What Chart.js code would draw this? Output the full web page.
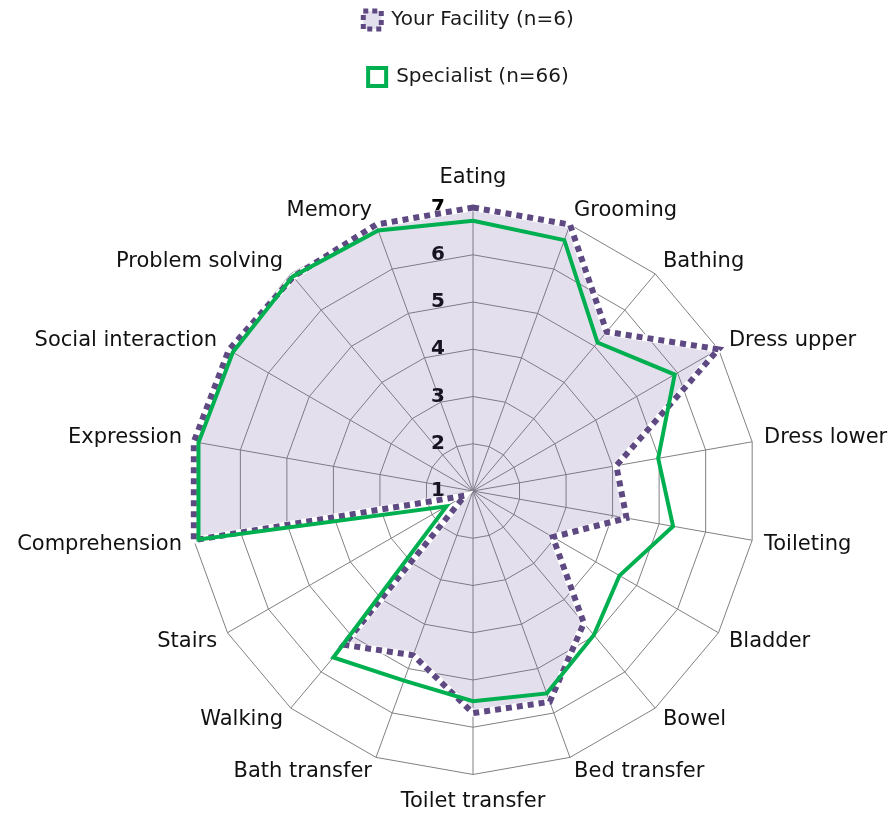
<!DOCTYPE html>
<html><head><meta charset="utf-8">
<script src="https://cdn.jsdelivr.net/npm/chart.js@4.4.1/dist/chart.umd.min.js"></script>
<style>html,body{margin:0;padding:0;background:#fff;overflow:hidden;} #wrap{width:895px;height:821px;position:relative;overflow:hidden;} #c{position:absolute;left:-4px;top:0;}</style>
</head><body><div id="wrap"><canvas id="c" width="912" height="883"></canvas></div>
<script>
const categories = ['Eating','Grooming','Bathing','Dress upper','Dress lower','Toileting','Bladder','Bowel','Bed transfer','Toilet transfer','Bath transfer','Walking','Stairs','Comprehension','Expression','Social interaction','Problem solving','Memory'];
const yourFacility = [7.0, 7.0, 5.4, 7.0, 4.08, 4.3, 2.95, 4.65, 5.75, 5.7, 4.7, 5.25, 1.2, 7.0, 7.0, 6.97, 6.92, 7.0];
const specialist = [6.72, 6.65, 5.1, 5.93, 4.98, 5.3, 4.58, 4.98, 5.56, 5.45, 5.27, 5.6, 1.65, 6.9, 6.9, 6.87, 6.93, 6.87];
const tickValues = [1, 2, 3, 4, 5, 6, 7];
const seriesNames = ['Your Facility (n=6)', 'Specialist (n=66)'];

const PURPLE = '#5E4982';
const LAVENDER = 'rgba(115,95,160,0.2)';
const GREEN = '#00B050';
const GRID = '#808080';

const legendWrap = {
  id: 'legendWrap',
  beforeLayout(chart) {
    const lg = chart.legend;
    if (lg && !lg._wrapped) {
      lg._wrapped = true;
      const orig = lg.setDimensions;
      lg.setDimensions = function () { orig.call(this); this.maxWidth = 320; };
    }
  },
  afterLayout(chart) {
    const lg = chart.legend;
    if (lg) { lg.left = 303; lg.right = 642; }
  }
};

const chart = new Chart(document.getElementById('c'), {
  type: 'radar',
  data: {
    labels: categories,
    datasets: [
      { label: seriesNames[0], data: yourFacility, order: 1, fill: false,
        borderColor: PURPLE, backgroundColor: LAVENDER, borderWidth: 6, borderDash: [6, 5],
        borderCapStyle: 'butt', pointRadius: 0 },
      { label: seriesNames[1], data: specialist, order: 0, fill: false,
        borderColor: GREEN, backgroundColor: '#ffffff', borderWidth: 4, pointRadius: 0 },
      { label: '', data: yourFacility, order: 2, fill: false,
        borderColor: '#ffffff', borderWidth: 7, pointRadius: 0 },
      { label: '', data: yourFacility, order: 3, fill: true,
        borderWidth: 0, borderColor: 'rgba(0,0,0,0)', backgroundColor: LAVENDER, pointRadius: 0 }
    ]
  },
  options: {
    responsive: false,
    animation: false,
    devicePixelRatio: 1,
    layout: { padding: { top: -27, bottom: 0, left: 0, right: 0 } },
    plugins: {
      tooltip: { enabled: false },
      legend: {
        position: 'top',
        align: 'center',
        labels: {
          filter: (item) => item.datasetIndex < 2,
          sort: (a, b) => a.datasetIndex - b.datasetIndex,
          boxWidth: 18, boxHeight: 18, padding: 37,
          color: '#1a1a1a',
          font: { family: 'DejaVu Sans', size: 20 },
          generateLabels: (ch) => {
            const items = Chart.defaults.plugins.legend.labels.generateLabels(ch);
            items.forEach(it => {
              if (it.datasetIndex === 0) { it.lineWidth = 5; it.lineDash = [5, 4]; it.fillStyle = LAVENDER; }
              if (it.datasetIndex === 1) { it.lineWidth = 4; it.fillStyle = '#ffffff'; }
            });
            return items;
          }
        }
      }
    },
    scales: {
      r: {
        min: 1, max: 7,
        afterBuildTicks: (s) => { s.ticks = [tickValues[0]].concat(tickValues).map(v => ({ value: v })); },
        ticks: {
          display: true, showLabelBackdrop: false, backdropPadding: 0, color: '#000',
          font: { family: 'DejaVu Sans', size: 20, weight: 'bold' },
          callback: (v) => v + '\u2003\u2003\u2003\u2002'
        },
        grid: { color: GRID, lineWidth: 1, circular: false },
        angleLines: { color: GRID, lineWidth: 1 },
        pointLabels: {
          color: '#111',
          padding: (ctx) => ctx.index === 0 ? 7 : (ctx.index === 9 ? 4 : 2),
          font: (ctx) => ({ family: 'DejaVu Sans', size: 21,
            lineHeight: (ctx.index === 0 || ctx.index === 9) ? 1.2 : 0.25 })
        }
      }
    }
  },
  plugins: [legendWrap]
});
</script>
</body></html>
